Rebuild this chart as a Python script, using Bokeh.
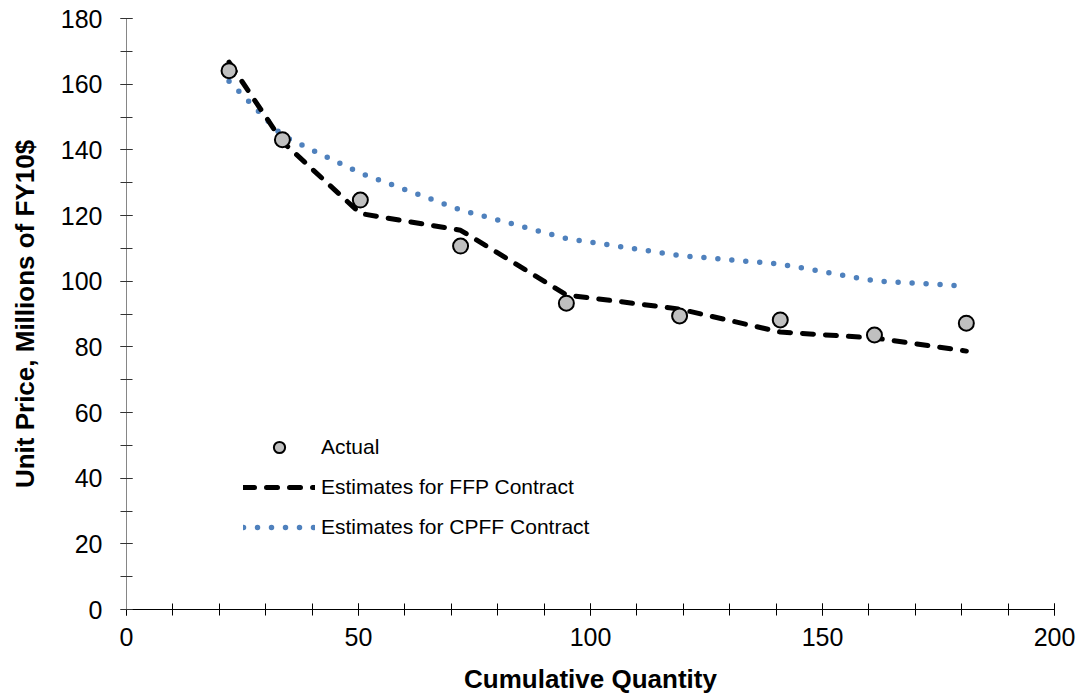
from bokeh.plotting import figure
from bokeh.models import Range1d, SingleIntervalTicker, Legend, LegendItem
from bokeh.embed import file_html
from bokeh.resources import INLINE

# Data
quantity = [22.1, 33.6, 50.4, 72.0, 94.8, 119.2, 140.9, 161.2, 181.0]
actual = [164.1, 143.1, 124.7, 110.7, 93.3, 89.4, 88.2, 83.6, 87.2]
ffp_estimate = [166.7, 142.5, 120.6, 115.5, 95.8, 91.5, 84.5, 82.7, 78.7]
cpff_estimate = [160.9, 144.3, 132.9, 121.7, 113.0, 107.8, 105.2, 100.1, 98.5]

x_label = "Cumulative Quantity"
y_label = "Unit Price, Millions of FY10$"
series_names = ["Actual", "Estimates for FFP Contract", "Estimates for CPFF Contract"]

FONT = "Liberation Sans"

p = figure(width=1080, height=696,
           x_range=Range1d(0, 200), y_range=Range1d(0, 180),
           output_backend="svg", toolbar_location=None,
           min_border_left=126, min_border_right=26,
           min_border_top=18, min_border_bottom=86)
p.outline_line_color = None
p.grid.visible = False
p.background_fill_color = "white"
p.border_fill_color = "white"

p.xaxis.ticker = SingleIntervalTicker(interval=50, num_minor_ticks=5)
p.yaxis.ticker = SingleIntervalTicker(interval=20, num_minor_ticks=2)

for ax in (p.xaxis[0], p.yaxis[0]):
    ax.major_tick_in = 6
    ax.major_tick_out = 6
    ax.minor_tick_in = 6
    ax.minor_tick_out = 6
    ax.major_label_text_font = FONT
    ax.major_label_text_font_size = "25px"
    ax.major_label_text_color = "black"
    ax.axis_label_text_font = FONT
    ax.axis_label_text_font_size = "26px"
    ax.axis_label_text_font_style = "bold"
    ax.axis_label_text_color = "black"

p.xaxis.axis_label = x_label
p.yaxis.axis_label = y_label
p.xaxis.axis_line_color = "black"
p.xaxis.major_tick_line_color = "black"
p.xaxis.minor_tick_line_color = "black"
p.yaxis.axis_line_color = "#868686"
p.yaxis.major_tick_line_color = "#333333"
p.yaxis.minor_tick_line_color = "#333333"
p.xaxis.major_label_standoff = 12
p.xaxis.axis_label_standoff = 15
p.yaxis.major_label_standoff = 18
p.yaxis.axis_label_standoff = 18

r_cpff = p.line(quantity, cpff_estimate, line_color="#4F81BD", line_width=5.5,
                line_dash="0 14", line_cap="round")
r_ffp = p.line(quantity, ffp_estimate, line_color="black", line_width=5,
               line_dash="11 12", line_cap="round")
r_act = p.scatter(quantity, actual, marker="circle", size=15,
                  fill_color="#C0C0C0", line_color="black", line_width=2)

legend = Legend(items=[
    LegendItem(label=series_names[0], renderers=[r_act]),
    LegendItem(label=series_names[1], renderers=[r_ffp]),
    LegendItem(label=series_names[2], renderers=[r_cpff]),
], location=(117, 68), orientation="vertical",
    glyph_width=72, glyph_height=28, label_height=28, spacing=12,
    padding=0, margin=0, label_standoff=6,
    border_line_color=None, background_fill_alpha=0,
    label_text_font=FONT, label_text_font_size="21px", label_text_color="black")
p.add_layout(legend)

open("out.html", "w").write(file_html(p, INLINE))
